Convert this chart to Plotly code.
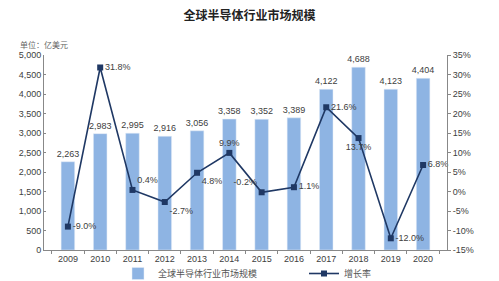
import plotly.graph_objects as go

years = ["2009", "2010", "2011", "2012", "2013", "2014", "2015", "2016", "2017", "2018", "2019", "2020"]
market = [2263, 2983, 2995, 2916, 3056, 3358, 3352, 3389, 4122, 4688, 4123, 4404]
growth = [-9.0, 31.8, 0.4, -2.7, 4.8, 9.9, -0.2, 1.1, 21.6, 13.7, -12.0, 6.8]
growth_pos = ["middle right", "middle right", "top right", "bottom right", "bottom right", "top center",
              "top left", "middle right", "middle right", "bottom center", "middle right", "middle right"]
left_ticks = [0, 500, 1000, 1500, 2000, 2500, 3000, 3500, 4000, 4500, 5000]
right_ticks = [-15, -10, -5, 0, 5, 10, 15, 20, 25, 30, 35]

num_font = "Liberation Sans, Arial, sans-serif"
cjk_font = "Noto Sans CJK SC, sans-serif"
grey = "#404040"

fig = go.Figure()
fig.add_trace(go.Bar(
    x=years, y=market, name="全球半导体行业市场规模",
    marker_color="#8EB4E3", width=0.42,
    text=[f"{v:,}" for v in market], textposition="outside", constraintext="none",
    textfont=dict(family=num_font, size=9, color=grey),
    cliponaxis=False,
))
fig.add_trace(go.Scatter(
    x=years, y=growth, name="增长率", yaxis="y2",
    mode="lines+markers+text",
    line=dict(color="#1F3864", width=1.6),
    marker=dict(symbol="square", size=6, color="#1F3864"),
    text=[f"{v:.1f}%" for v in growth], textposition=growth_pos,
    textfont=dict(family=num_font, size=9, color=grey),
    cliponaxis=False,
))

fig.update_layout(
    width=499, height=281,
    margin=dict(l=44, r=52, t=55, b=31, autoexpand=False),
    paper_bgcolor="white", plot_bgcolor="white",
    font=dict(family=cjk_font, color=grey, size=9),
    title=dict(text="<b>全球半导体行业市场规模</b>", x=0.5, xanchor="center", y=0.96, yanchor="top",
               font=dict(family=cjk_font, size=12, color="#222222")),
    showlegend=True,
    legend=dict(orientation="h", xref="container", yref="container",
                x=118 / 499, xanchor="left", y=22 / 281, yanchor="top",
                entrywidth=141, font=dict(family=cjk_font, size=9, color="#555555"),
                bgcolor="rgba(0,0,0,0)"),
    bargap=0.58,
    xaxis=dict(type="category", showline=True, linecolor="#888888", linewidth=1,
               ticks="outside", tickson="boundaries", ticklen=3, tickcolor="#888888",
               tickfont=dict(family=num_font, size=9, color=grey), showgrid=False),
    yaxis=dict(range=[0, 5000], tickvals=left_ticks, ticktext=[f"{v:,}" for v in left_ticks],
               showline=True, linecolor="#888888", linewidth=1, ticks="inside", ticklen=2,
               tickcolor="#888888", showgrid=False, zeroline=False,
               tickfont=dict(family=num_font, size=9, color=grey)),
    yaxis2=dict(range=[-15, 35], tickvals=right_ticks, ticktext=[f"{v}%" for v in right_ticks],
                overlaying="y", side="right", showline=True, linecolor="#888888", linewidth=1,
                ticks="outside", ticklen=3, tickcolor="#888888", showgrid=False, zeroline=False,
                tickfont=dict(family=num_font, size=9, color=grey)),
)
fig.add_annotation(text="单位：亿美元", xref="paper", yref="paper",
                   x=(18 - 44) / 403, xanchor="left", y=1 + 11 / 195, yanchor="middle",
                   showarrow=False, font=dict(family=cjk_font, size=8, color="#666666"))

fig.write_html("out.html")
